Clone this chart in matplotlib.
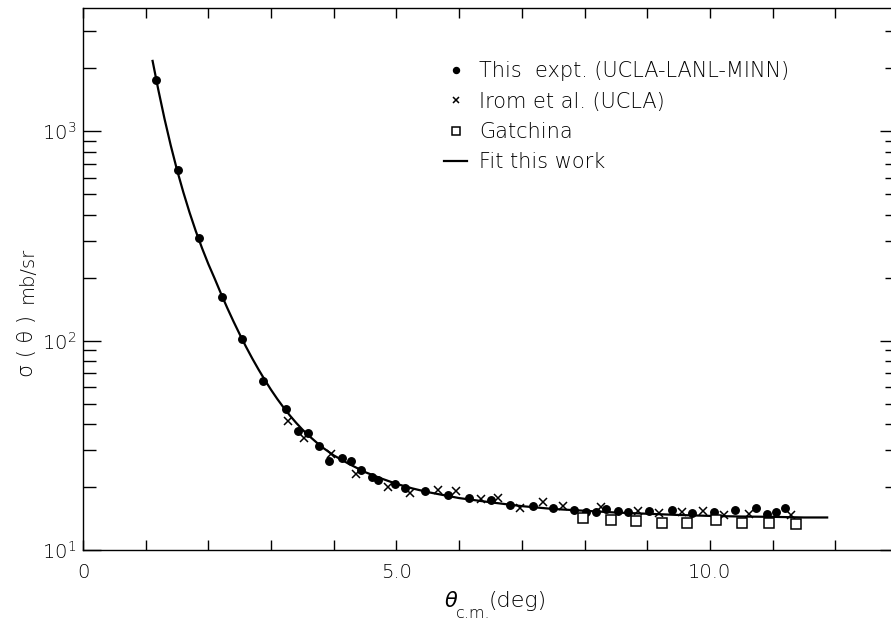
import matplotlib
matplotlib.use("Agg")
import matplotlib.pyplot as plt
from matplotlib.ticker import LogLocator, NullFormatter, MultipleLocator

# This experiment (UCLA-LANL-MINN)
this_x = [1.16, 1.52, 1.85, 2.21, 2.54, 2.87, 3.24, 3.43, 3.59, 3.77, 3.93,
          4.13, 4.28, 4.44, 4.61, 4.71, 4.97, 5.13, 5.46, 5.82, 6.16, 6.51,
          6.81, 7.17, 7.49, 7.83, 8.02, 8.19, 8.34, 8.54, 8.70, 9.03, 9.39,
          9.72, 10.06, 10.40, 10.73, 10.91, 11.06, 11.20]
this_y = [1750, 652, 308, 161, 102, 64, 47.3, 37.2, 36.2, 31.3, 26.5,
          27.4, 26.5, 24.0, 22.3, 21.7, 20.6, 19.8, 19.1, 18.3, 17.8, 17.3,
          16.4, 16.2, 15.9, 15.6, 15.2, 15.2, 15.7, 15.3, 15.2, 15.4, 15.6,
          15.1, 15.2, 15.6, 15.8, 14.9, 15.2, 15.9]

# Irom et al. (UCLA)
irom_x = [3.27, 3.52, 3.96, 4.35, 4.87, 5.21, 5.67, 5.95, 6.35, 6.62, 6.97,
          7.33, 7.65, 8.27, 8.86, 9.18, 9.55, 9.89, 10.23, 10.62, 11.30]
irom_y = [41.1, 34.4, 28.9, 23.0, 19.9, 18.8, 19.3, 19.2, 17.6, 17.8, 15.8,
          17.0, 16.2, 16.1, 15.4, 15.1, 15.2, 15.4, 14.7, 14.8, 14.7]

# Gatchina
gat_x = [7.98, 8.43, 8.82, 9.23, 9.64, 10.09, 10.51, 10.94, 11.38]
gat_y = [14.2, 13.9, 13.7, 13.5, 13.4, 13.9, 13.5, 13.4, 13.3]

# Fit this work
fit_x = [1.11, 1.2, 1.3, 1.4, 1.5, 1.6, 1.7, 1.8, 1.9, 2.0, 2.1, 2.2, 2.3,
         2.4, 2.5, 2.6, 2.7, 2.8, 2.9, 3.0, 3.1, 3.2, 3.3, 3.4, 3.5, 3.6,
         3.8, 4.0, 4.25, 4.5, 4.75, 5.0, 5.25, 5.5, 6.0, 6.5, 7.0, 7.5,
         8.0, 8.5, 9.0, 9.5, 10.0, 10.5, 11.0, 11.5, 11.87]
fit_y = [2168, 1585, 1148, 855, 653, 512, 409, 333, 276, 232, 198, 168,
         143.5, 123.6, 107.2, 93.5, 82.2, 72.8, 64.9, 58.2, 52.6, 47.9, 43.9,
         40.5, 37.6, 35.2, 31.2, 28.3, 25.7, 23.55, 22.0, 20.7, 19.7, 18.9,
         17.7, 16.9, 16.2, 15.7, 15.4, 15.1, 14.9, 14.7, 14.55, 14.45, 14.4,
         14.3, 14.3]

x_ticks = [0, 5, 10]
x_tick_labels = ["0", "5.0", "10.0"]


def main():
    """Draw the cross-section plot and save it to out.png."""
    plt.rcParams["font.family"] = ["DejaVu Sans"]
    plt.rcParams["font.weight"] = "light"
    plt.rcParams["mathtext.fontset"] = "custom"
    plt.rcParams["mathtext.rm"] = "DejaVu Sans:light"
    plt.rcParams["mathtext.default"] = "regular"

    fig = plt.figure(figsize=(8.91, 6.28), dpi=100)
    W, H = 891, 628
    ax = fig.add_axes([83 / W, 78 / H, 815 / W, 542 / H])

    ax.plot(fit_x, fit_y, color="black", lw=1.6, label="Fit this work",
            zorder=2)
    ax.plot(this_x, this_y, "o", color="black", ms=5.4, ls="none",
            label="This  expt. (UCLA-LANL-MINN)", zorder=3)
    ax.plot(irom_x, irom_y, "x", color="black", ms=5.5, mew=1.1, ls="none",
            label="Irom et al. (UCLA)", zorder=3)
    ax.plot(gat_x, gat_y, "s", mfc="white", mec="black", ms=6.5, mew=1.1,
            ls="none", label="Gatchina", zorder=3)

    ax.set_yscale("log")
    ax.set_xlim(0, 13)
    ax.set_ylim(10, 3880)

    ax.set_xticks(x_ticks)
    ax.set_xticklabels(x_tick_labels)
    ax.xaxis.set_minor_locator(MultipleLocator(1))
    ax.yaxis.set_major_locator(LogLocator(base=10))
    ax.yaxis.set_minor_locator(LogLocator(base=10, subs=range(2, 10)))
    ax.yaxis.set_minor_formatter(NullFormatter())

    ax.tick_params(axis="x", which="both", direction="in", top=True,
                   length=7.5, width=1.0, labelsize=14, pad=9)
    ax.tick_params(axis="y", which="major", direction="in", right=True,
                   length=13, width=1.0, labelsize=14, pad=5)
    ax.tick_params(axis="y", which="minor", direction="in", right=True,
                   length=9.4, width=1.0)
    for s in ax.spines.values():
        s.set_linewidth(1.0)

    handles, labels = ax.get_legend_handles_labels()
    order = [1, 2, 3, 0]
    ax.legend([handles[i] for i in order], [labels[i] for i in order],
              loc="upper left", bbox_to_anchor=(0.443, 0.902), frameon=False,
              fontsize=15, handlelength=1.1, handletextpad=0.6,
              labelspacing=0.5, borderpad=0, borderaxespad=0, markerscale=0.8)

    # y label: sigma(theta) mb/sr
    fig.text(27 / W, 1 - 346 / H, "σ ( θ )", rotation=90,
             ha="center", va="center", fontsize=15)
    fig.text(27 / W, 1 - 275 / H, "mb/sr", rotation=90,
             ha="center", va="center", fontsize=14)

    # x label: theta_c.m.(deg)
    fig.text(451 / W, 1 - 601 / H, "θ", style="italic",
             ha="center", va="center", fontsize=15)
    fig.text(473 / W, 1 - 614 / H, "c.m.",
             ha="center", va="center", fontsize=11.5)
    fig.text(518 / W, 1 - 601 / H, "(deg)",
             ha="center", va="center", fontsize=16)

    fig.savefig("out.png", dpi=100)


if __name__ == "__main__":
    main()
